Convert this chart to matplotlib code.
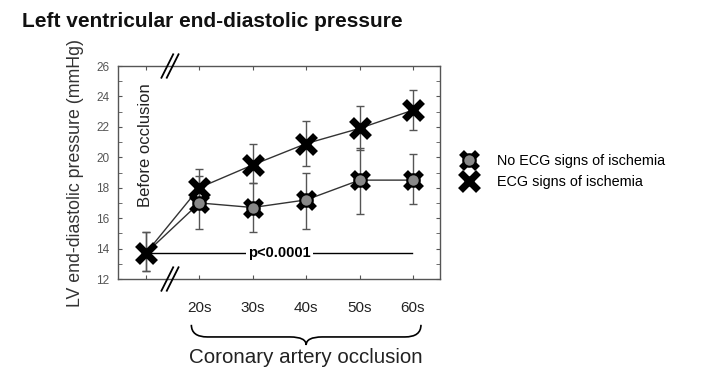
import numpy as np
import matplotlib.pyplot as plt
from matplotlib.path import Path
from matplotlib.patches import PathPatch
import matplotlib.transforms as mtransforms
from matplotlib.lines import Line2D

plt.rcParams['font.family'] = ['Liberation Sans', 'DejaVu Sans']

# time points: baseline (before occlusion) then 20s..60s of occlusion
x_pos = [0, 1, 2, 3, 4, 5]
tick_labels = ['', '20s', '30s', '40s', '50s', '60s']

no_ecg_mean = [13.7, 17.0, 16.7, 17.2, 18.5, 18.5]
no_ecg_lo = [12.5, 15.3, 15.1, 15.3, 16.3, 16.9]
no_ecg_hi = [15.1, 18.8, 18.3, 19.0, 20.6, 20.2]

ecg_mean = [13.7, 18.0, 19.5, 20.9, 21.9, 23.1]
ecg_lo = [12.5, 16.8, 18.3, 19.4, 20.5, 21.8]
ecg_hi = [15.1, 19.2, 20.9, 22.4, 23.4, 24.4]

fig = plt.figure(figsize=(7.22, 3.82), dpi=100)
ax = fig.add_axes([0.1634, 0.2696, 0.446, 0.5576])

grey = '#555555'
ne_err = [np.array(no_ecg_mean) - np.array(no_ecg_lo), np.array(no_ecg_hi) - np.array(no_ecg_mean)]
e_err = [np.array(ecg_mean) - np.array(ecg_lo), np.array(ecg_hi) - np.array(ecg_mean)]

ax.errorbar(x_pos, no_ecg_mean, yerr=ne_err, fmt='none', ecolor=grey, elinewidth=1, capsize=3, zorder=2)
ax.errorbar(x_pos, ecg_mean, yerr=e_err, fmt='none', ecolor=grey, elinewidth=1, capsize=3, zorder=2)

ax.plot(x_pos, no_ecg_mean, color='#333333', lw=1, zorder=3)
ax.plot(x_pos, ecg_mean, color='#333333', lw=1, zorder=3)

# no ECG signs: cross under a grey dot
ax.plot(x_pos[1:], no_ecg_mean[1:], 'x', color='black', ms=11, mew=5, zorder=4)
ax.plot(x_pos[1:], no_ecg_mean[1:], 'o', mfc='#888888', mec='black', mew=1.5, ms=9, zorder=5)
# ECG signs of ischemia: bold cross
ax.plot(x_pos, ecg_mean, 'x', color='black', ms=13, mew=5, zorder=6)

# p-value line
ax.plot([0.1, 4.98], [13.7, 13.7], color='black', lw=1, zorder=3)
ax.text(2.5, 13.7, 'p<0.0001', ha='center', va='center', fontsize=10.5, fontweight='bold',
        bbox=dict(facecolor='white', edgecolor='none', pad=1.5), zorder=4)

ax.text(0.0, 20.8, 'Before occlusion', rotation=90, ha='center', va='center', fontsize=12,
        color='#222222')

ax.set_xlim(-0.524, 5.506)
ax.set_ylim(12, 26)
ax.set_yticks(np.arange(12, 27, 2))
ax.set_yticks(np.arange(13, 26, 1), minor=True)
ax.set_xticks(x_pos)
ax.set_xticklabels(tick_labels)

for s in ax.spines.values():
    s.set_color(grey)
    s.set_linewidth(1)
ax.tick_params(axis='x', which='both', direction='in', top=True, length=3, color=grey,
               pad=16, labelsize=11, labelcolor='#222222')
ax.tick_params(axis='y', which='both', direction='in', right=True, length=3, color=grey,
               labelsize=8.5, labelcolor=grey, pad=6)
ax.set_ylabel('LV end-diastolic pressure (mmHg)', fontsize=12.8, color='#333333', labelpad=9)

# axis break marks
trans = mtransforms.blended_transform_factory(ax.transData, ax.transAxes)
for yb in [1.0, 0.0]:
    for dx in [-0.05, 0.05]:
        xc = 0.45 + dx
        ax.plot([xc - 0.11, xc + 0.11], [yb - 0.055, yb + 0.055], color='black', lw=1.3,
                transform=trans, clip_on=False, zorder=7)

# curly brace under the occlusion time points
x0, x1, xc = 0.85, 5.15, 3.0
yt, ym, ytip = -0.215, -0.272, -0.31
r = 0.3
verts = [(x0, yt), (x0, ym), (x0 + r, ym),
         (xc - r, ym),
         (xc, ym), (xc, ytip),
         (xc, ym), (xc + r, ym),
         (x1 - r, ym),
         (x1, ym), (x1, yt)]
codes = [Path.MOVETO, Path.CURVE3, Path.CURVE3,
         Path.LINETO,
         Path.CURVE3, Path.CURVE3,
         Path.CURVE3, Path.CURVE3,
         Path.LINETO,
         Path.CURVE3, Path.CURVE3]
ax.add_patch(PathPatch(Path(verts, codes), facecolor='none', edgecolor='black', lw=1.2,
                       transform=trans, clip_on=False))
ax.text(xc, -0.37, 'Coronary artery occlusion', ha='center', va='center', fontsize=14.8,
        color='#222222', transform=trans)

# legend
h_no = (Line2D([], [], ls='none', marker='x', color='black', ms=11, mew=5),
        Line2D([], [], ls='none', marker='o', mfc='#888888', mec='black', mew=1.5, ms=9))
h_ecg = Line2D([], [], ls='none', marker='x', color='black', ms=13, mew=5)
fig.legend([h_no, h_ecg], ['No ECG signs of ischemia', 'ECG signs of ischemia'],
           loc='upper left', bbox_to_anchor=(0.625, 0.615), frameon=False, fontsize=10.4,
           handletextpad=1.2, labelspacing=0.45, handlelength=1.5, borderpad=0)

fig.text(0.03, 0.945, 'Left ventricular end-diastolic pressure', fontsize=15, fontweight='bold',
         color='#111111', ha='left', va='center')

fig.savefig('out.png', dpi=100)
